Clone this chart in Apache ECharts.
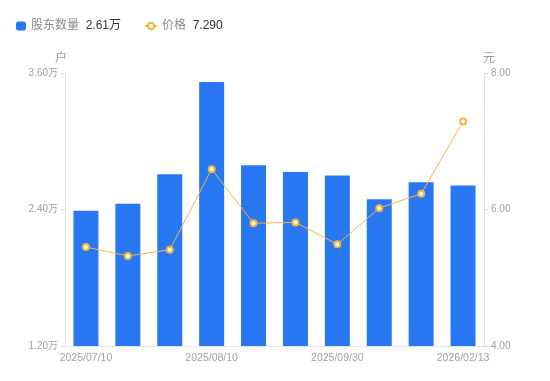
<!DOCTYPE html>
<html><head><meta charset="utf-8">
<script src="https://cdn.jsdelivr.net/npm/echarts@6/dist/echarts.min.js"></script>
<style>html,body{margin:0;padding:0;background:#fff}#c{width:550px;height:381px}</style>
</head><body><div id="c"></div>
<script>
const categories = ['2025/07/10','2025/07/20','2025/07/31','2025/08/10','2025/08/20','2025/08/31','2025/09/30','2025/10/31','2025/12/31','2026/02/13'];
const holders = [2.39, 2.45, 2.71, 3.52, 2.79, 2.73, 2.70, 2.49, 2.64, 2.61];
const prices = [5.45, 5.32, 5.41, 6.59, 5.80, 5.81, 5.49, 6.02, 6.23, 7.29];
const holderLatest = '2.61万';
const priceLatest = '7.290';

const chart = echarts.init(document.getElementById('c'));
const font = '"Liberation Sans", "Noto Sans CJK SC", sans-serif';
const legendFmt = function (n) {
  return n === '股东数量' ? '{a|' + n + '}  {b|' + holderLatest + '}' : '{a|' + n + '}  {b|' + priceLatest + '}';
};
const legendText = {
  rich: {
    a: { color: '#8a8a99', fontSize: 12, fontFamily: font },
    b: { color: '#333', fontSize: 12, fontFamily: font }
  }
};
chart.setOption({
  animation: false,
  textStyle: { fontFamily: font },
  legend: [{
    left: 11, top: 15,
    itemWidth: 10, itemHeight: 9,
    data: [{ name: '股东数量', icon: 'roundRect' }],
    formatter: legendFmt, textStyle: legendText
  }, {
    left: 139, top: 15,
    itemWidth: 12, itemHeight: 8,
    data: ['价格'],
    formatter: legendFmt, textStyle: legendText
  }],
  grid: { left: 65, right: 66, top: 73, bottom: 35 },
  xAxis: {
    type: 'category', data: categories,
    axisLine: { lineStyle: { color: '#e3e3ea' } },
    axisTick: { show: false },
    axisLabel: { interval: 2, color: '#a0a0ad', fontSize: 10.5, margin: 7 }
  },
  yAxis: [{
    type: 'value', name: '户', min: 1.2, max: 3.6, interval: 1.2,
    nameTextStyle: { color: '#9a9aa8', fontSize: 12, padding: [0, 8, 0, 0] },
    nameGap: 8,
    axisLine: { show: true, lineStyle: { color: '#e3e3ea' } },
    axisTick: { show: true, length: 4, lineStyle: { color: '#d6d6de' } },
    splitLine: { show: false },
    axisLabel: { color: '#a0a0ad', fontSize: 10, margin: 7, formatter: v => v.toFixed(2) + '万' }
  }, {
    type: 'value', name: '元', min: 4, max: 8, interval: 2,
    nameTextStyle: { color: '#9a9aa8', fontSize: 12, padding: [0, 0, 0, 10] },
    nameGap: 8,
    axisLine: { show: true, lineStyle: { color: '#e3e3ea' } },
    axisTick: { show: true, length: 4, lineStyle: { color: '#d6d6de' } },
    splitLine: { show: false },
    axisLabel: { color: '#a0a0ad', fontSize: 10, margin: 7, formatter: v => v.toFixed(2) }
  }],
  series: [{
    name: '股东数量', type: 'bar', data: holders, barWidth: 25, yAxisIndex: 0,
    itemStyle: { color: '#2778f2' }
  }, {
    name: '价格', type: 'line', data: prices, yAxisIndex: 1,
    symbol: 'emptyCircle', symbolSize: 6,
    lineStyle: { color: '#f8b33c', width: 1 },
    itemStyle: { color: '#f8b33c', borderWidth: 2 }
  }]
});
</script></body></html>
